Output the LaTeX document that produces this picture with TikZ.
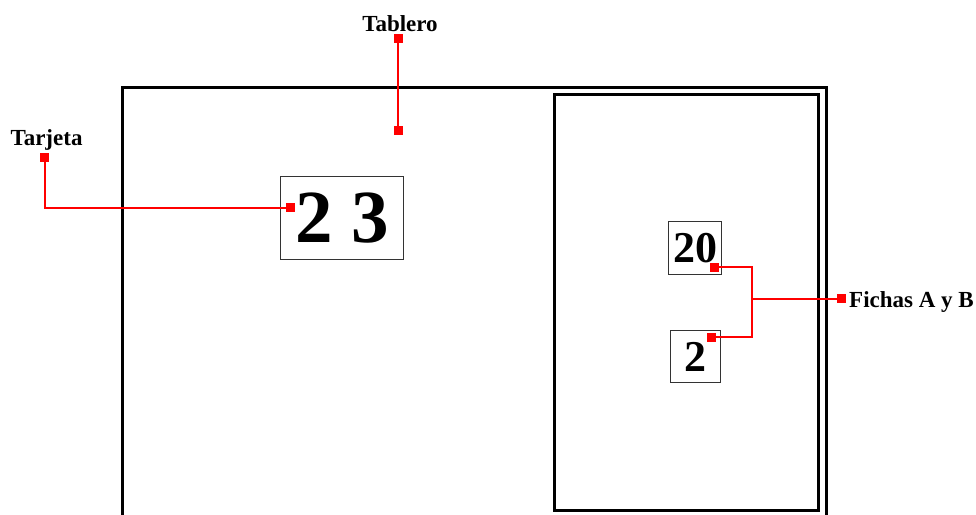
\documentclass[tikz,border=0pt]{standalone}
\usepackage{fontspec}
\setmainfont{Liberation Serif}

\begin{document}
\begin{tikzpicture}[x=1pt,y=-1pt,
		marca/.style={fill=red,inner sep=0pt,minimum size=9pt},
		enlace/.style={red,line width=2pt},
		ficha/.style={draw=black!80,line width=1pt,inner sep=0pt,text depth=0pt,font=\bfseries\fontsize{44}{44}\selectfont},
		rotulo/.style={inner sep=0pt,anchor=base,font=\bfseries\fontsize{23}{25}\selectfont}]
			\clip (0,0) rectangle (976,514);
			\draw[line width=3pt] (122,530) -- (122,87) -- (826,87) -- (826,530);
			\node (caja) [draw,line width=3pt,inner sep=0pt,minimum width=264,minimum height=416] at (686.3,302.8){};
			\node (tarjeta) [ficha,minimum width=123,minimum height=83,font=\bfseries\fontsize{75}{75}\selectfont] at (342,218){2 3};
			\node (f20) [ficha,minimum width=53,minimum height=53] at (695,248.3){20};
			\node (f2) [ficha,minimum width=50,minimum height=52] at (695.5,356.5){2};
			\node (tablero) [rotulo] at (400,31){Tablero};
			\node (ltarjeta) [rotulo] at (46.5,145){Tarjeta};
			\node (fichas) [rotulo,anchor=base west] at (849,307){Fichas A y B};
			\node (mtab) [marca] at (398,38.5){};
			\node (mtablero) [marca] at (398,130.5){};
			\node (mtar) [marca] at (44.5,157.5){};
			\node (mtarjeta) [marca] at (290.5,207.5){};
			\node (mfichas) [marca] at (841,298.5){};
			\node (m20) [marca] at (714.5,267){};
			\node (m2) [marca] at (711,337){};
			\coordinate (union) at (752,298.5);
			\draw[enlace] (mtab.center) -- (mtablero.center);
			\draw[enlace] (mtar.center) |- (mtarjeta.center);
			\draw[enlace] (mfichas.center) -- (union);
			\draw[enlace] (m20.center) -| (union) |- (m2.center);
		\end{tikzpicture}
\end{document}
